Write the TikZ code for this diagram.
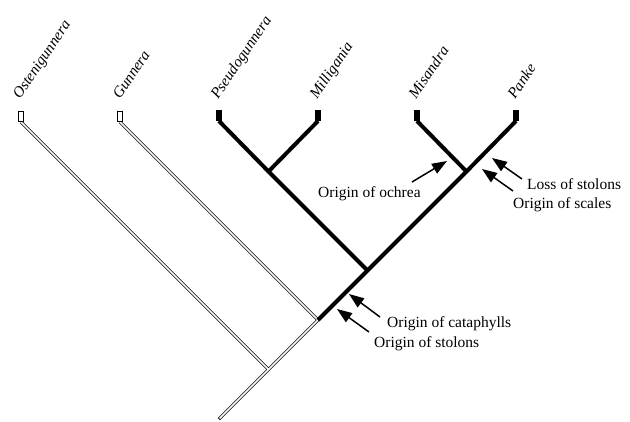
\documentclass[tikz,border=0pt]{standalone}
\usepackage{fontspec}
\setmainfont{Liberation Serif}
\usetikzlibrary{arrows.meta}
\begin{document}
\begin{tikzpicture}[x=1pt,y=-1pt,
  solidbranch/.style={line width=4pt, line join=miter},
  hollowouter/.style={line width=3pt, line join=miter},
  hollowinner/.style={white, line width=1.5pt, line join=miter},
  solidtip/.style={fill=black, draw=none, minimum width=6.5pt, minimum height=11pt, inner sep=0pt, anchor=south},
  hollowtip/.style={fill=white, draw=black, line width=0.8pt, minimum width=4.5pt, minimum height=10.5pt, inner sep=0pt, anchor=south},
  taxon/.style={font=\fontsize{15.3}{18}\selectfont\itshape, rotate=56, anchor=base west, inner sep=0pt},
  note/.style={font=\fontsize{15.5}{18}\selectfont, anchor=base west, inner sep=0pt},
  pointer/.style={line width=1.5pt, -{Triangle[length=15pt,width=11pt]}}]

\useasboundingbox (0,0) rectangle (630,421);

% base points of the terminal branches
\coordinate (ostenbase)  at (21,122);
\coordinate (gunbase)    at (120,122);
\coordinate (pseudobase) at (219,121);
\coordinate (millibase)  at (318,121);
\coordinate (misbase)    at (417,121);
\coordinate (pankebase)  at (516,121);

% internal nodes of the tree
\coordinate (root) at (219,419);
\coordinate (jost) at (268.5,369.5);
\coordinate (jgun) at (318,320);
\coordinate (jpse) at (367.5,270.5);
\coordinate (jmil) at (268.5,171.5);
\coordinate (jpan) at (466.5,171.5);

% hollow (outline) branches
\draw[hollowouter] (ostenbase) -- (jost);
\draw[hollowouter] (root) -- (jgun) -- (gunbase);
\draw[hollowinner] (ostenbase) -- (jost);
\draw[hollowinner, shorten <=0.8pt] (root) -- (jgun) -- (gunbase);

% solid branches
\draw[solidbranch] (jgun) -- (jpse) -- (jpan) -- (pankebase);
\draw[solidbranch] (jpse) -- (jmil) -- (pseudobase);
\draw[solidbranch] (jmil) -- (millibase);
\draw[solidbranch] (jpan) -- (misbase);

% terminal boxes
\node[hollowtip] (osten)  at (ostenbase) {};
\node[hollowtip] (gun)    at (gunbase) {};
\node[solidtip]  (pseudo) at (pseudobase) {};
\node[solidtip]  (milli)  at (millibase) {};
\node[solidtip]  (mis)    at (misbase) {};
\node[solidtip]  (panke)  at (pankebase) {};

% taxon names
\node[taxon] (ostenlabel)  at (20,100)  {Ostenigunnera};
\node[taxon] (gunlabel)    at (120,100) {Gunnera};
\node[taxon] (pseudolabel) at (218,100) {Pseudogunnera};
\node[taxon] (millilabel)  at (317,100) {Milligania};
\node[taxon] (mislabel)    at (416,100) {Misandra};
\node[taxon] (pankelabel)  at (515,100) {Panke};

% character annotations
\node[note] (ochrea)     at (318,197) {Origin of ochrea};
\node[note] (losssto)    at (527,189) {Loss of stolons};
\node[note] (scales)     at (513,208) {Origin of scales};
\node[note] (cataphylls) at (387,327) {Origin of cataphylls};
\node[note] (stolons)    at (374,347) {Origin of stolons};

% arrow ends
\coordinate (ochreaT) at (412,182);  \coordinate (ochreaH) at (447,161);
\coordinate (lossT)   at (522,179);  \coordinate (lossH)   at (492,158);
\coordinate (scaleT)  at (513,191);  \coordinate (scaleH)  at (482,169);
\coordinate (cataT)   at (380,317);  \coordinate (cataH)   at (349,294);
\coordinate (stoT)    at (369,332);  \coordinate (stoH)    at (337,309);

\draw[pointer] (ochreaT) -- (ochreaH);
\draw[pointer] (lossT) -- (lossH);
\draw[pointer] (scaleT) -- (scaleH);
\draw[pointer] (cataT) -- (cataH);
\draw[pointer] (stoT) -- (stoH);
\end{tikzpicture}
\end{document}
